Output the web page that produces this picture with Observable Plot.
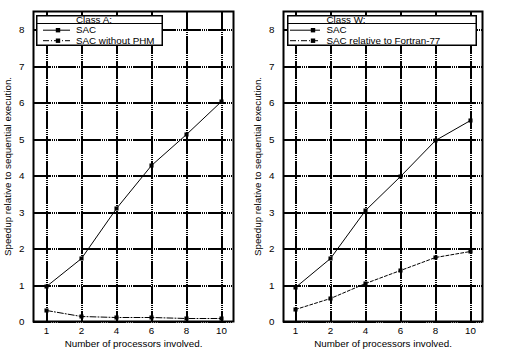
<!DOCTYPE html>
<html><head><meta charset="utf-8">
<script src="https://cdn.jsdelivr.net/npm/d3@7"></script>
<script src="https://cdn.jsdelivr.net/npm/@observablehq/plot@0.6"></script>
<style>
body{margin:0;background:#fff;}
#wrap{position:relative;width:505px;height:351px;font-family:"Liberation Sans",Arial,Helvetica,sans-serif;background:#fff;}
#wrap > div{position:absolute;top:0;}
svg text{font-family:"Liberation Sans",Arial,Helvetica,sans-serif;}
</style>
</head><body>
<div id="wrap"><div id="pa" style="left:0"></div><div id="pw" style="left:250px"></div></div>
<script>
const processors = ["1","2","4","6","8","10"];
const yTicks = [0,1,2,3,4,5,6,7,8];
const classA_SAC   = [0.96,1.73,3.10,4.28,5.14,6.04];
const classA_noPHM = [0.31,0.13,0.12,0.10,0.09,0.09];
const classW_SAC   = [0.94,1.73,3.04,3.98,4.97,5.50];
const classW_F77   = [0.33,0.62,1.05,1.41,1.76,1.93];
const legendA = {title:"Class A:", names:["SAC","SAC without PHM"]};
const legendW = {title:"Class W:", names:["SAC","SAC relative to Fortran-77"]};

const FONT = "9.8px";
const gridDash = "18,1,1,1,1,1,1,1";

function rows(vals){ return processors.map((p,i)=>({p, v: vals[i]})); }

function panel(s1, s2, dash2, width, marginRight){
  const d1 = rows(s1), d2 = rows(s2);
  return Plot.plot({
    width, height: 351,
    marginLeft: 33, marginRight, marginTop: 11, marginBottom: 30,
    style: {fontSize: FONT, fontFamily: '"Liberation Sans",Arial,sans-serif', color: "#000", background: "#fff"},
    x: {type: "point", domain: processors, padding: 0.28, round: true},
    y: {domain: [0, 8.5], round: true},
    marks: [
      Plot.gridX(processors, {stroke: "#000", strokeOpacity: 1, strokeWidth: 2, dx: 0.5, strokeDasharray: gridDash}),
      Plot.gridY(yTicks, {stroke: "#000", strokeOpacity: 1, strokeWidth: 2, dy: 0.5, strokeDasharray: gridDash}),
      Plot.frame({stroke: "#000", strokeWidth: 2}),
      Plot.line(d1, {x: "p", y: "v", stroke: "#000", strokeWidth: 1}),
      Plot.line(d2, {x: "p", y: "v", stroke: "#000", strokeWidth: 1, strokeDasharray: dash2}),
      Plot.dot(d1, {x: "p", y: "v", symbol: "square", r: 2.3, fill: "#000", stroke: "none"}),
      Plot.dot(d2, {x: "p", y: "v", symbol: "square", r: 2.3, fill: "#000", stroke: "none"}),
      Plot.axisX({tickSize: 0, tickPadding: 6, label: "Number of processors involved.", labelAnchor: "center", labelOffset: 25, labelArrow: "none"}),
      Plot.axisY({ticks: yTicks, tickSize: 0, tickPadding: 9, label: "Speedup relative to sequential execution.", labelAnchor: "center", labelOffset: 29, labelArrow: "none"})
    ]
  });
}

function legend(container, info, dashes, left, w, lineX0, lineX1, markX, textX){
  const h = 31;
  const svg = d3.select(container).append("svg")
    .attr("width", w).attr("height", h)
    .style("position","absolute").style("left", left+"px").style("top","15px").style("overflow","visible");
  svg.append("rect").attr("x",0.75).attr("y",0.75).attr("width",w-1.5).attr("height",h-1.5)
    .attr("fill","#fff").attr("stroke","#000").attr("stroke-width",1.5);
  svg.append("line").attr("x1",0).attr("x2",w).attr("y1",8.5).attr("y2",8.5).attr("stroke","#000").attr("stroke-width",1);
  svg.append("text").attr("x",textX).attr("y",4.8).attr("dy","0.32em").attr("font-size",FONT).text(info.title);
  const ys = [15.2, 25.7];
  info.names.forEach((n,i)=>{
    svg.append("line").attr("x1",lineX0).attr("x2",lineX1).attr("y1",ys[i]).attr("y2",ys[i])
      .attr("stroke","#000").attr("stroke-width",1).attr("stroke-dasharray", dashes[i] || null);
    svg.append("rect").attr("x",markX-2.2).attr("y",ys[i]-2.2).attr("width",4.4).attr("height",4.4).attr("fill","#000");
    svg.append("text").attr("x",textX).attr("y",ys[i]).attr("dy","0.32em").attr("font-size",FONT).text(n);
  });
}

document.getElementById("pa").appendChild(panel(classA_SAC, classA_noPHM, "6,2,1,2", 250, 17));
document.getElementById("pw").appendChild(panel(classW_SAC, classW_F77, "3,2", 255, 23));
legend(document.getElementById("wrap"), legendA, [null, "6,2,1,2"], 36, 127, 7, 34, 22, 40);
legend(document.getElementById("wrap"), legendW, [null, "6,2,1,2"], 286.5, 190, 3, 33, 26, 39.5);
</script>
</body></html>
